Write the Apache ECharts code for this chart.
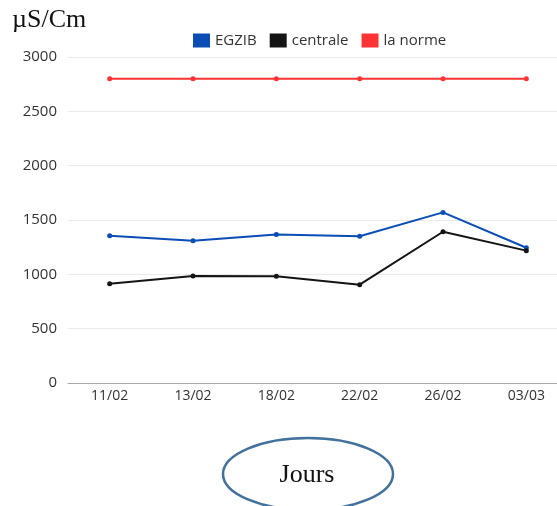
<!DOCTYPE html>
<html><head><meta charset="utf-8">
<script src="https://cdn.jsdelivr.net/npm/echarts@6/dist/echarts.min.js"></script>
<style>html,body{margin:0;padding:0;background:#fff}#c{width:557px;height:506px}</style>
</head><body><div id="c"></div>
<script>
const categories = ['11/02','13/02','18/02','22/02','26/02','03/03'];
const egzib = [1355, 1309, 1366, 1350, 1570, 1245];
const centrale = [914, 985, 982, 905, 1392, 1218];
const norme = [2800, 2800, 2800, 2800, 2800, 2800];
const yTicks = [0, 500, 1000, 1500, 2000, 2500, 3000];

const FONT = '"Open Sans", sans-serif';
const chart = echarts.init(document.getElementById('c'));
const mk = (name, data, color) => ({
  name, type: 'line', data, symbol: 'circle', symbolSize: 5,
  lineStyle: {color, width: 2}, itemStyle: {color}, color
});
chart.setOption({
  animation: false,
  legend: {
    top: 28, left: 188, itemWidth: 17, itemHeight: 14, itemGap: 13,
    icon: 'rect',
    textStyle: {fontFamily: FONT, fontSize: 15, color: '#333'},
    data: ['EGZIB', 'centrale', 'la norme']
  },
  grid: {left: 68, right: -11, top: 57, bottom: 123, outerBoundsMode: 'none', containLabel: false},
  xAxis: {
    type: 'category', data: categories, boundaryGap: true,
    axisLine: {lineStyle: {color: '#aaa'}},
    axisTick: {show: false},
    axisLabel: {fontFamily: FONT, fontSize: 14, color: '#333', margin: 6}
  },
  yAxis: {
    type: 'value', min: yTicks[0], max: yTicks[yTicks.length-1], interval: 500,
    axisLine: {show: false}, axisTick: {show: false},
    splitLine: {lineStyle: {color: '#eaeaea'}},
    axisLabel: {fontFamily: FONT, fontSize: 15, color: '#333', margin: 11,
      formatter: v => String(v)}
  },
  series: [
    mk('EGZIB', egzib, '#0a4db5'),
    mk('centrale', centrale, '#141414'),
    mk('la norme', norme, '#ff3333')
  ],
  graphic: [
    {type: 'text', left: 12, top: 7, style: {text: 'µS/Cm', font: '26px "Liberation Serif", serif', fill: '#111'}},
    {type: 'ellipse', shape: {cx: 308, cy: 474, rx: 85, ry: 36}, style: {fill: '#fff', stroke: '#41719c', lineWidth: 2.5}},
    {type: 'text', x: 307, y: 475, style: {text: 'Jours', font: '26px "Liberation Serif", serif', fill: '#111', align: 'center', verticalAlign: 'middle'}}
  ]
});
</script></body></html>
